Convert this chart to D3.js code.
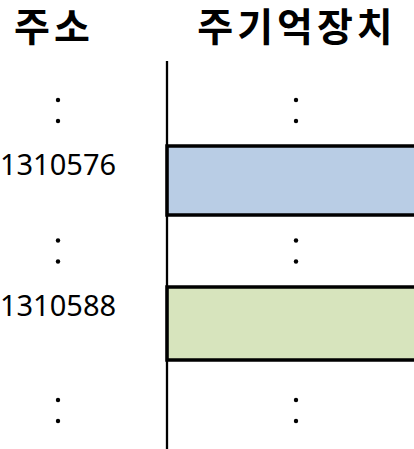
<!DOCTYPE html>
<html>
<head>
<meta charset="utf-8">
<script src="https://cdn.jsdelivr.net/npm/d3@7"></script>
<style>
    body { margin: 0; background: #fff; }
    svg { display: block; }
</style>
</head>
<body>
<div id="chart"></div>
<script>
// Column headers
var columns = ["주소", "주기억장치"];
// Rows of the memory map, top to bottom: gap rows are shown as ":" only
var rowKinds = ["gap", "cell", "gap", "cell", "gap"];
var rowAddresses = ["", "1310576", "", "1310588", ""];
var cellGroups = ["", "a", "", "b", ""];

var width = 414;
var height = 449;

var svg = d3.select("#chart").append("svg")
    .attr("width", width)
    .attr("height", height);

var x = d3.scalePoint()
    .domain(columns)
    .range([58, 296]);

// row boundaries (rows are not all the same height)
var y = d3.scaleLinear()
    .domain([0, 1, 2, 3, 4, 5])
    .range([75, 146, 215, 287, 360, 461]);

var color = d3.scaleOrdinal()
    .domain(["a", "b"])
    .range(["#B9CDE5", "#D7E4BD"]);

var lineX = 167;
var headerSpacing = 4;

// headers
svg.selectAll("text.header")
    .data(columns)
    .enter().append("text")
    .attr("class", "header")
    .attr("x", function (d, i) { return x(d) + (i === 0 ? -6 : -1) + headerSpacing / 2; })
    .attr("y", 41)
    .attr("text-anchor", "middle")
    .attr("font-family", "'Noto Sans CJK KR', 'Noto Sans', sans-serif")
    .attr("font-weight", "bold")
    .attr("font-size", "39px")
    .attr("letter-spacing", headerSpacing + "px")
    .attr("fill", "#000")
    .text(function (d) { return d; });

var rows = rowKinds.map(function (kind, i) {
    return {kind: kind, address: rowAddresses[i], group: cellGroups[i], index: i};
});

// memory cells
svg.selectAll("rect.cell")
    .data(rows.filter(function (d) { return d.kind === "cell"; }))
    .enter().append("rect")
    .attr("class", "cell")
    .attr("x", lineX)
    .attr("y", function (d) { return y(d.index); })
    .attr("width", 300)
    .attr("height", function (d) { return y(d.index + 1) - y(d.index); })
    .attr("fill", function (d) { return color(d.group); })
    .attr("stroke", "#000")
    .attr("stroke-width", 3.5);

// vertical line
svg.append("line")
    .attr("x1", lineX).attr("x2", lineX)
    .attr("y1", 61).attr("y2", height)
    .attr("stroke", "#000")
    .attr("stroke-width", 2.3);

// address labels
svg.selectAll("text.address")
    .data(rows.filter(function (d) { return d.kind === "cell"; }))
    .enter().append("text")
    .attr("class", "address")
    .attr("x", x(columns[0]))
    .attr("y", function (d) { return y(d.index) + 29; })
    .attr("text-anchor", "middle")
    .attr("font-family", "'Noto Sans', sans-serif")
    .attr("font-size", "29px")
    .attr("fill", "#000")
    .text(function (d) { return d.address; });

// ":" markers in the gap rows, both columns
var gapDots = [];
rows.filter(function (d) { return d.kind === "gap"; }).forEach(function (d) {
    columns.forEach(function (c) {
        gapDots.push({col: c, row: d.index, dy: -10.5});
        gapDots.push({col: c, row: d.index, dy: 10.5});
    });
});

svg.selectAll("circle.dot")
    .data(gapDots)
    .enter().append("circle")
    .attr("class", "dot")
    .attr("cx", function (d) { return x(d.col); })
    .attr("cy", function (d) { return (y(d.row) + y(d.row + 1)) / 2 + d.dy; })
    .attr("r", 2.2)
    .attr("fill", "#000");
</script>
</body>
</html>
